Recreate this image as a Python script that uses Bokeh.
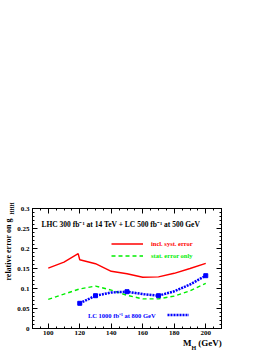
from bokeh.plotting import figure
from bokeh.models import (FixedTicker, LinearAxis, Label, Legend, LegendItem,
                          CustomJSTickFormatter, Range1d)
from bokeh.embed import file_html
from bokeh.resources import INLINE

# ---- data ----
syst_mass = [100, 110, 119, 120, 130, 140, 150, 160, 170, 180, 190, 200]
syst_err = [0.151, 0.166, 0.187, 0.172, 0.162, 0.143, 0.137, 0.128, 0.129, 0.138, 0.150, 0.163]

stat_mass = [100, 110, 120, 130, 140, 150, 160, 170, 180, 190, 200]
stat_err = [0.073, 0.086, 0.099, 0.106, 0.096, 0.083, 0.074, 0.074, 0.081, 0.094, 0.113]

lc_mass = [120, 130, 140, 150, 160, 170, 180, 190, 200]
lc_err = [0.063, 0.082, 0.090, 0.092, 0.086, 0.082, 0.093, 0.110, 0.132]
lc_pt_mass = [120, 130, 150, 170, 200]
lc_pt_err = [0.063, 0.082, 0.092, 0.082, 0.132]

x_ticks = [100, 120, 140, 160, 180, 200]
x_minor = [90 + 5 * i for i in range(25)]
y_ticks = [0, 0.05, 0.1, 0.15, 0.2, 0.25, 0.3]
y_minor = [round(0.01 * i, 2) for i in range(31)]

title_text = "LHC 300 fb\u207b\u00b9 at 14 TeV + LC 500 fb\u207b\u00b9 at 500 GeV"
syst_label = "incl. syst. error"
stat_label = "stat. error only"
lc_label = "LC 1000 fb\u207b\u00b9 at 800 GeV"
NB = "\u00a0"
# axis titles are centred on the axis end; non-breaking spaces shift the visible part
x_title_main = "M" + NB * 3 + "(GeV)" + NB * 17
x_title_sub = "H" + NB * 37
y_title_main = "relative error on g" + NB * 41
y_title_sub = "HHH"

FONT = "Liberation Serif"
RED = "#ff0000"
GREEN = "#00ee00"
BLUE = "#0000ff"

p = figure(width=273, height=353, x_range=Range1d(90, 210), y_range=Range1d(0, 0.3),
           output_backend="svg", toolbar_location=None,
           min_border_left=31, min_border_right=52, min_border_top=208, min_border_bottom=25)
p.xgrid.visible = False
p.ygrid.visible = False
p.outline_line_color = "black"
p.outline_line_width = 1
p.background_fill_color = "white"
p.border_fill_color = "white"

def style_axis(ax, ticks, minor, show_labels):
    ax.ticker = FixedTicker(ticks=ticks, minor_ticks=minor)
    ax.major_tick_in = 5
    ax.major_tick_out = 0
    ax.minor_tick_in = 2
    ax.minor_tick_out = 0
    ax.axis_line_color = "black"
    ax.major_tick_line_color = "black"
    ax.minor_tick_line_color = "black"
    ax.major_label_text_font = FONT
    ax.major_label_text_font_style = "bold"
    ax.major_label_text_color = "black"
    ax.major_label_text_font_size = "7px"
    ax.axis_label_text_font = FONT
    ax.axis_label_text_font_style = "bold"
    ax.axis_label_text_color = "black"
    if not show_labels:
        ax.formatter = CustomJSTickFormatter(code="return '';")
        ax.major_label_standoff = 0

def title_axis(text, size, standoff):
    ax = LinearAxis(ticker=FixedTicker(ticks=[]), axis_line_color=None,
                    major_tick_line_color=None, minor_tick_line_color=None,
                    major_tick_in=0, major_tick_out=0, minor_tick_in=0, minor_tick_out=0,
                    major_label_standoff=0,
                    formatter=CustomJSTickFormatter(code="return '';"))
    ax.axis_label = text
    ax.axis_label_text_font = FONT
    ax.axis_label_text_font_style = "bold"
    ax.axis_label_text_font_size = size
    ax.axis_label_text_color = "black"
    ax.axis_label_standoff = standoff
    ax.axis_label_align = "end"
    return ax

# bottom axis: tick labels + main part of the x title
xa = p.xaxis[0]
style_axis(xa, x_ticks, x_minor, True)
xa.major_label_standoff = 2
xa.axis_label = x_title_main
xa.axis_label_text_font_size = "9px"
xa.axis_label_standoff = 0
xa.axis_label_align = "end"
p.add_layout(title_axis(x_title_sub, "6px", -6), "below")

# left axis: tick labels + subscript of the y title, outer axis: main y title
ya = p.yaxis[0]
style_axis(ya, y_ticks, y_minor, True)
ya.major_label_standoff = 3
ya.formatter = CustomJSTickFormatter(code="return tick.toString();")
ya.axis_label = y_title_sub
ya.axis_label_text_font_size = "5.2px"
ya.axis_label_standoff = -1
ya.axis_label_align = "end"
p.add_layout(title_axis(y_title_main, "8px", -6), "left")

top = LinearAxis()
style_axis(top, x_ticks, x_minor, False)
p.add_layout(top, "above")
right = LinearAxis()
style_axis(right, y_ticks, y_minor, False)
p.add_layout(right, "right")

r_syst = p.line(syst_mass, syst_err, line_color=RED, line_width=1.4)
r_stat = p.line(stat_mass, stat_err, line_color=GREEN, line_width=1.4, line_dash="4 3")
r_lc = p.line(lc_mass, lc_err, line_color=BLUE, line_width=2.5, line_dash="2 1")
p.scatter(lc_pt_mass, lc_pt_err, marker="square", size=4, fill_color=BLUE, line_color=BLUE)

def make_legend(item_label, rend, loc, gw, color):
    lg = Legend(items=[LegendItem(label=item_label, renderers=[rend])], location=loc,
                glyph_width=gw, glyph_height=11, label_height=11, spacing=0, padding=0,
                margin=0, label_standoff=8, background_fill_alpha=0, border_line_alpha=0,
                label_text_font=FONT, label_text_font_style="bold",
                label_text_font_size="6.5px", label_text_color=color)
    p.add_layout(lg, "center")

make_legend(syst_label, r_syst, (79, 79), 32, RED)
make_legend(stat_label, r_stat, (79, 67), 32, GREEN)
make_legend(" ", r_lc, (135, 8), 22, BLUE)

def lab(x, y, text, size, color="black"):
    p.add_layout(Label(x=x, y=y, text=text, text_font=FONT, text_font_style="bold",
                       text_font_size=size, text_color=color,
                       text_align="left", text_baseline="middle"))

lab(95.7, 0.261, title_text, "7.5px")
lab(125.2, 0.0325, lc_label, "6.5px", BLUE)

open("out.html", "w").write(file_html(p, INLINE))
